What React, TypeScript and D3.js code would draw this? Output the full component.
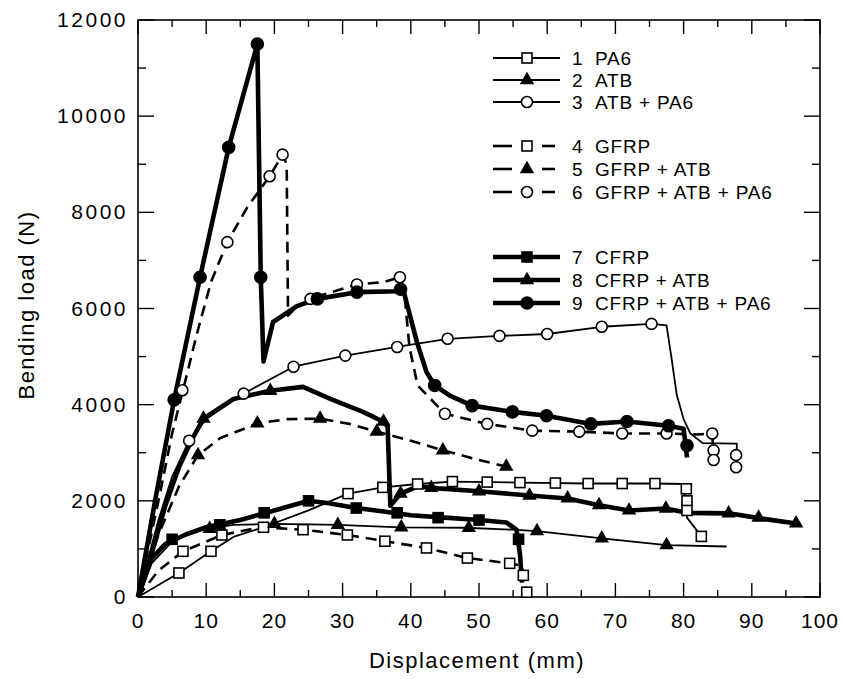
import * as d3 from 'd3';
import { useEffect, useRef } from 'react';

// displacement (mm), load (N) pairs
const s1 = [[0,0],[3,250],[6,500],[10.7,950],[14,1250],[18.4,1450],[25,1800],[30.8,2150],[35.9,2280],[41,2350],[46.1,2400],[56,2380],[66,2360],[75.8,2360],[80,2350],[80.5,1650],[82.6,1260]];
const s1Marks = [[6,500],[10.7,950],[18.4,1450],[30.8,2150],[35.9,2280],[41,2350],[46.1,2400],[51.2,2390],[56,2380],[61.2,2370],[66,2360],[71,2360],[75.8,2360],[80.4,2250],[80.5,2000],[80.5,1800],[82.6,1260]];

const s2 = [[0,0],[2,700],[5,1150],[9,1400],[14,1500],[19.8,1520],[25,1510],[29.3,1500],[38.4,1450],[48,1440],[55,1400],[58.5,1370],[68,1220],[77.5,1080],[86.3,1050]];
const s2Marks = [[10.5,1420],[20,1520],[29.3,1500],[38.6,1450],[48.5,1440],[58.5,1370],[68,1220],[77.5,1080]];

const s3 = [[0,0],[3,1600],[5,2500],[7.5,3250],[10,3700],[15.5,4230],[22.8,4790],[30.4,5020],[38,5200],[45.4,5370],[53,5430],[60,5470],[68,5620],[75.3,5680],[77.5,5650],[78.2,5000],[79,4200],[80,3700],[81,3400],[82.8,3200],[87.8,3190],[87.8,2650]];
const s3Marks = [[7.5,3250],[15.5,4230],[22.8,4790],[30.4,5020],[38,5200],[45.4,5370],[53,5430],[60,5470],[68,5620],[75.3,5680],[87.7,2950],[87.7,2700]];

const s4 = [[0,0],[3,550],[6.6,950],[12.3,1290],[18,1450],[24.2,1400],[30.7,1290],[36.2,1160],[42.3,1020],[48.3,810],[54.5,700],[56.3,650],[56.6,400],[57,100]];
const s4Marks = [[6.6,950],[12.3,1290],[24.2,1400],[30.7,1290],[36.2,1160],[42.3,1020],[48.3,810],[54.5,700],[56.5,450],[57,100]];

const s5 = [[0,0],[3,1300],[6,2300],[8.8,2950],[12,3300],[17.5,3610],[22,3700],[26.7,3710],[31,3600],[35,3440],[40,3250],[44.7,3050],[50,2850],[54,2710]];
const s5Marks = [[8.8,2950],[17.5,3610],[26.7,3710],[35,3440],[44.7,3050],[54,2710]];

const s6 = [[0,0],[3,2000],[5,3400],[7.3,4700],[8.5,5400],[10.7,6550],[13.1,7380],[16,8100],[19.3,8750],[21.2,9200],[21.8,9000],[22,5850],[23.3,6050],[26.3,6250],[32.1,6500],[36,6550],[38.4,6650],[39,6400],[39.8,5200],[41,4400],[45,3810],[51.2,3600],[57.8,3460],[64.7,3440],[71,3400],[77.5,3400],[82,3380],[84.2,3400],[84.4,2850]];
const s6Marks = [[6.5,4300],[13.1,7380],[19.3,8750],[21.2,9200],[25.3,6200],[32.1,6500],[38.4,6650],[45,3810],[51.2,3600],[57.8,3460],[64.7,3440],[71,3400],[77.5,3400],[84.2,3400],[84.4,3050],[84.4,2850]];

const s7 = [[0,0],[2,800],[4,1100],[7,1300],[10,1450],[15,1600],[20,1800],[25,2000],[28,1950],[32,1850],[36,1780],[40,1700],[45,1650],[50,1600],[54,1550],[55.5,1400],[56,900],[56.3,300]];
const s7Marks = [[5,1200],[12,1500],[18.5,1750],[25,2000],[32,1850],[38,1750],[44,1650],[50,1600],[55.8,1200]];

const s8 = [[0,0],[2,900],[4,1900],[6,2700],[8,3300],[9.6,3710],[14,4120],[19.4,4290],[24.2,4370],[28.2,4120],[33,3850],[35.9,3650],[36.6,3550],[37,1900],[38.5,2150],[41,2300],[44,2260],[50,2200],[57.4,2110],[63,2050],[67.6,1910],[72,1800],[77.4,1840],[80.5,1750],[86.6,1740],[92,1620],[96.5,1530]];
const s8Marks = [[9.6,3710],[19.4,4290],[36,3650],[38.5,2150],[43,2270],[50,2200],[57.4,2110],[63,2050],[67.6,1910],[72,1800],[77.4,1840],[86.6,1740],[91,1650],[96.5,1530]];

const s9 = [[0,0],[2.5,2000],[5.3,4100],[9.1,6650],[13.3,9350],[17.5,11500],[18,6650],[18.4,4900],[19.8,5720],[23.3,6050],[26.3,6200],[32.1,6340],[38,6360],[38.8,6440],[40.9,5300],[42.3,4680],[43.5,4400],[45.7,4190],[49,3980],[54.9,3850],[59.9,3770],[66.4,3600],[71.7,3650],[77.8,3560],[80,3500],[80.5,2900]];
const s9Marks = [[5.3,4100],[9.1,6650],[13.3,9350],[17.5,11500],[18,6650],[26.3,6200],[32.1,6340],[38.5,6400],[43.5,4400],[49,3980],[54.9,3850],[59.9,3770],[66.4,3600],[71.7,3650],[77.8,3560],[80.5,3150]];

const labels = ['PA6','ATB','ATB + PA6','GFRP','GFRP + ATB','GFRP + ATB + PA6','CFRP','CFRP + ATB','CFRP + ATB + PA6'];
const xTicks = [0,10,20,30,40,50,60,70,80,90,100];
const yTicks = [0,2000,4000,6000,8000,10000,12000];

const series = [
  { data: s1, marks: s1Marks, kind: 'thin', marker: 'square' },
  { data: s2, marks: s2Marks, kind: 'thin', marker: 'triangle' },
  { data: s3, marks: s3Marks, kind: 'thin', marker: 'circle' },
  { data: s4, marks: s4Marks, kind: 'dash', marker: 'square' },
  { data: s5, marks: s5Marks, kind: 'dash', marker: 'triangle' },
  { data: s6, marks: s6Marks, kind: 'dash', marker: 'circle' },
  { data: s7, marks: s7Marks, kind: 'thick', marker: 'fsquare' },
  { data: s8, marks: s8Marks, kind: 'thick', marker: 'triangle' },
  { data: s9, marks: s9Marks, kind: 'thick', marker: 'fcircle' },
];

const W = 842;
const H = 679;
const font = '"Liberation Sans", Arial, sans-serif';

const Chart = () => {
  const ref = useRef(null);

  useEffect(() => {
    const svg = d3.select(ref.current);
    svg.selectAll('*').remove();

    const x = d3.scaleLinear().domain([0, 100]).range([138, 820]);
    const y = d3.scaleLinear().domain([0, 12000]).range([597, 20]);

    const lineStyle = (g, kind) => {
      g.attr('fill', 'none').attr('stroke', '#000').attr('stroke-linejoin', 'round');
      if (kind === 'thin') g.attr('stroke-width', 1.8);
      if (kind === 'dash') g.attr('stroke-width', 2.6).attr('stroke-dasharray', '11,7');
      if (kind === 'thick') g.attr('stroke-width', 4.6);
    };

    const drawMarker = (g, type, cx, cy) => {
      if (type === 'square' || type === 'fsquare') {
        g.append('rect')
          .attr('x', cx - 5).attr('y', cy - 5).attr('width', 10).attr('height', 10)
          .attr('fill', type === 'fsquare' ? '#000' : '#fff')
          .attr('stroke', '#000').attr('stroke-width', 1.6);
      } else if (type === 'circle' || type === 'fcircle') {
        g.append('circle')
          .attr('cx', cx).attr('cy', cy).attr('r', type === 'fcircle' ? 6 : 5.5)
          .attr('fill', type === 'fcircle' ? '#000' : '#fff')
          .attr('stroke', '#000').attr('stroke-width', 1.6);
      } else {
        g.append('path')
          .attr('transform', `translate(${cx},${cy})`)
          .attr('d', d3.symbol(d3.symbolTriangle, 90)())
          .attr('fill', '#000');
      }
    };

    // frame
    svg.append('rect')
      .attr('x', x(0)).attr('y', y(12000))
      .attr('width', x(100) - x(0)).attr('height', y(0) - y(12000))
      .attr('fill', 'none').attr('stroke', '#000').attr('stroke-width', 1.6);

    const ticks = svg.append('g').attr('stroke', '#000').attr('stroke-width', 1.4);
    d3.range(0, 101, 5).forEach((v) => {
      const len = v % 10 === 0 ? 14 : 7;
      ticks.append('line').attr('x1', x(v)).attr('x2', x(v)).attr('y1', y(0)).attr('y2', y(0) - len);
      ticks.append('line').attr('x1', x(v)).attr('x2', x(v)).attr('y1', y(12000)).attr('y2', y(12000) + len);
    });
    d3.range(0, 12001, 1000).forEach((v) => {
      const len = v % 2000 === 0 ? 16 : 8;
      ticks.append('line').attr('x1', x(0)).attr('x2', x(0) + len).attr('y1', y(v)).attr('y2', y(v));
      ticks.append('line').attr('x1', x(100)).attr('x2', x(100) - len).attr('y1', y(v)).attr('y2', y(v));
    });

    const txt = svg.append('g').attr('font-family', font).attr('fill', '#000');
    xTicks.forEach((v) => {
      txt.append('text').attr('x', x(v)).attr('y', 628)
        .attr('text-anchor', 'middle').attr('font-size', 21).attr('letter-spacing', 1)
        .text(v);
    });
    yTicks.forEach((v) => {
      txt.append('text').attr('x', x(0) - 10).attr('y', y(v) + 7)
        .attr('text-anchor', 'end').attr('font-size', 21).attr('letter-spacing', 2.5)
        .text(v);
    });
    txt.append('text').attr('x', 477).attr('y', 668)
      .attr('text-anchor', 'middle').attr('font-size', 22).attr('letter-spacing', 1.5)
      .text('Displacement (mm)');
    txt.append('text')
      .attr('transform', 'translate(34,305) rotate(-90)')
      .attr('text-anchor', 'middle').attr('font-size', 22).attr('letter-spacing', 1.5)
      .text('Bending load (N)');

    // curves
    const line = d3.line().x((d) => x(d[0])).y((d) => y(d[1]));
    series.forEach((s) => {
      svg.append('path').datum(s.data).attr('d', line).call(lineStyle, s.kind);
    });
    series.forEach((s) => {
      const g = svg.append('g');
      s.marks.forEach((m) => drawMarker(g, s.marker, x(m[0]), y(m[1])));
    });

    // legend
    const rowY = [58, 80, 102, 146, 169, 192, 257, 280, 303];
    series.forEach((s, i) => {
      const g = svg.append('g');
      const ly = rowY[i];
      if (s.kind === 'dash') {
        g.append('line').attr('x1', 493).attr('x2', 512).attr('y1', ly).attr('y2', ly).call(lineStyle, 'thin').attr('stroke-width', 2.6);
        g.append('line').attr('x1', 542).attr('x2', 555).attr('y1', ly).attr('y2', ly).call(lineStyle, 'thin').attr('stroke-width', 2.6);
      } else {
        g.append('line').attr('x1', 493).attr('x2', 560).attr('y1', ly).attr('y2', ly).call(lineStyle, s.kind);
      }
      drawMarker(g, s.marker, 527, ly);
      g.append('text').attr('x', 572).attr('y', ly + 7)
        .attr('font-family', font).attr('font-size', 19).text(i + 1);
      g.append('text').attr('x', 595).attr('y', ly + 7)
        .attr('font-family', font).attr('font-size', 19).attr('letter-spacing', 0.8).text(labels[i]);
    });
  }, []);

  return <svg ref={ref} width={W} height={H} style={{ display: 'block', background: '#fff' }}></svg>;
};

export default function App() {
  return (
    <div style={{ position: 'absolute', left: 0, top: 0 }}>
      <Chart />
    </div>
  );
}
